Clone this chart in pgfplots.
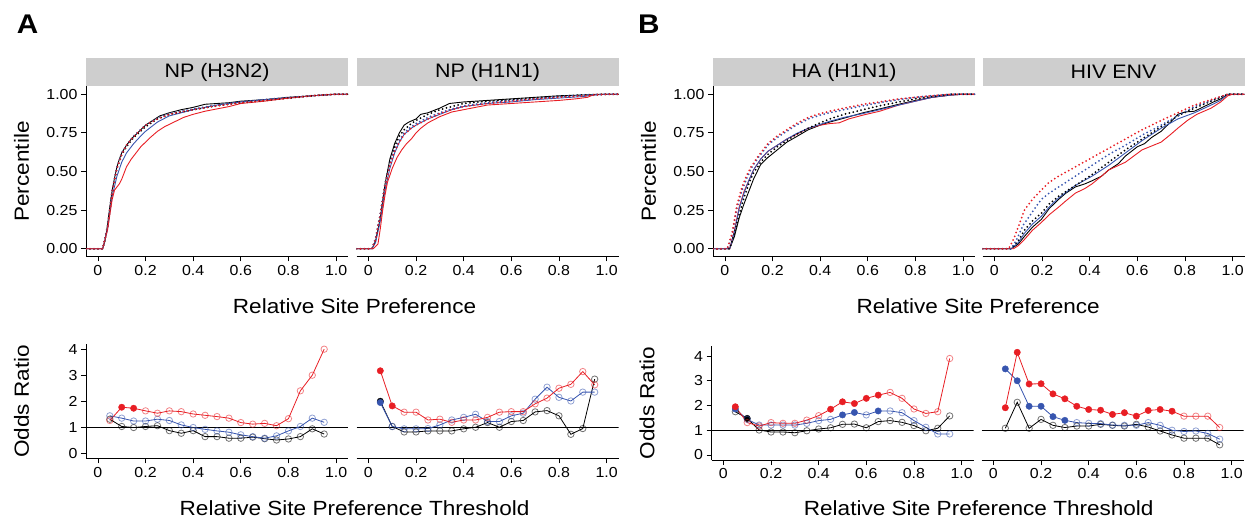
\documentclass[border=0pt]{standalone}
\usepackage{fontspec}
\setmainfont{Liberation Sans}[FakeStretch=1.1]
\usepackage{pgfplots}
\usepackage{pgfplotstable}
\pgfplotsset{compat=1.18}

\definecolor{cred}{RGB}{232,30,36}
\definecolor{cblue}{RGB}{55,85,175}
\definecolor{stripgray}{RGB}{206,206,206}

\newcommand\tickfont{\fontsize{14.5}{16}\selectfont}
\newcommand\labfont{\fontsize{20.5}{24}\selectfont}
\newcommand\stripfont{\fontsize{19.5}{22}\selectfont}

\pgfplotsset{
  base/.style={scale only axis, width=262pt, xmin=-0.05, xmax=1.05,
    axis x line=bottom, axis y line=left,
    axis line style={-, line width=0.8pt, black},
    tick align=outside, major tick length=5pt,
    every tick/.style={black, line width=0.8pt},
    xtick={0,0.2,0.4,0.6,0.8,1}, xticklabels={0,0.2,0.4,0.6,0.8,1.0},
    tick label style={font=\tickfont},
    every axis y label/.style={at={(axis description cs:0,0.5)}, xshift=-64.5pt, rotate=90, anchor=center, font=\labfont},
  },
  noy/.style={axis y line=none},
  cdf/.style={base, height=170pt, ymin=-0.05, ymax=1.05,
    ytick={0,0.25,0.5,0.75,1}, yticklabels={0.00,0.25,0.50,0.75,1.00},
    every axis title/.style={at={(0.5,1)}, anchor=south, fill=stripgray, minimum width=262pt, minimum height=28pt, inner sep=0pt, font=\stripfont}},
  orp/.style={base, ytick={0,1,2,3,4}, yticklabels={0,1,2,3,4}},
  sol/.style={mark=none, line width=0.9pt},
  dot/.style={mark=none, line width=2pt, line cap=round, dash pattern=on 0pt off 4pt},
}

% #1 table, #2 value column, #3 significance column (1 = filled), #4 colour
\newcommand\orser[4]{%
  \addplot[#4, mark=none, line width=0.8pt] table[x=x,y=#2]{#1};
  \addplot[scatter, only marks, point meta=explicit symbolic,
    scatter/classes={
      0={mark=o, mark size=3.2pt, draw=#4, draw opacity=0.55, line width=0.8pt},
      1={mark=*, mark size=3.2pt, draw=#4, fill=#4}}]
    table[x=x,y=#2,meta=#3]{#1};
}

\pgfplotstableread{
x r rf b bf k kf
0.05 1.26 0 1.44 0 1.31 0
0.10 1.77 1 1.35 0 1.03 0
0.15 1.73 1 1.24 0 0.99 0
0.20 1.63 0 1.24 0 1.03 0
0.25 1.54 0 1.31 0 1.06 0
0.30 1.63 0 1.26 0 0.87 0
0.35 1.60 0 1.09 0 0.77 0
0.40 1.51 0 0.99 0 0.87 0
0.45 1.46 0 0.92 0 0.64 0
0.50 1.41 0 0.86 0 0.64 0
0.55 1.35 0 0.81 0 0.58 0
0.60 1.18 0 0.71 0 0.58 0
0.65 1.12 0 0.64 0 0.62 0
0.70 1.15 0 0.58 0 0.56 0
0.75 1.06 0 0.67 0 0.51 0
0.80 1.33 0 0.86 0 0.55 0
0.85 2.40 0 1.03 0 0.64 0
0.90 3.00 0 1.35 0 0.94 0
0.95 4.00 0 1.19 0 0.74 0
}\tabA
\pgfplotstableread{
x r rf b bf k kf
0.05 3.17 1 1.95 1 2.00 1
0.10 1.82 1 1.03 0 1.03 0
0.15 1.58 0 0.94 0 0.82 0
0.20 1.58 0 0.94 0 0.82 0
0.25 1.28 0 0.95 0 0.86 0
0.30 1.31 0 1.09 0 0.86 0
0.35 1.19 0 1.28 0 0.86 0
0.40 1.28 0 1.38 0 0.94 0
0.45 1.28 0 1.50 0 1.00 0
0.50 1.38 0 1.22 0 1.18 0
0.55 1.58 0 1.22 0 1.00 0
0.60 1.60 0 1.44 0 1.22 0
0.65 1.60 0 1.54 0 1.26 0
0.70 1.90 0 2.08 0 1.59 0
0.75 2.12 0 2.54 0 1.64 0
0.80 2.50 0 2.15 0 1.44 0
0.85 2.65 0 2.01 0 0.73 0
0.90 3.14 0 2.35 0 0.95 0
0.95 2.63 0 2.35 0 2.85 0
}\tabB
\pgfplotstableread{
x r rf b bf k kf
0.05 1.95 1 1.86 1 1.75 0
0.10 1.31 0 1.44 0 1.48 1
0.15 1.17 0 1.21 0 1.01 0
0.20 1.31 0 1.21 0 0.93 0
0.25 1.28 0 1.21 0 0.93 0
0.30 1.28 0 1.21 0 0.90 0
0.35 1.41 0 1.28 0 0.98 0
0.40 1.59 0 1.39 0 1.05 0
0.45 1.85 1 1.44 0 1.10 0
0.50 2.15 1 1.62 1 1.24 0
0.55 2.08 1 1.72 1 1.25 0
0.60 2.29 1 1.62 0 1.10 0
0.65 2.42 1 1.78 1 1.35 0
0.70 2.53 0 1.78 0 1.39 0
0.75 2.29 0 1.71 0 1.32 0
0.80 1.86 0 1.39 0 1.19 0
0.85 1.68 0 1.12 0 0.98 0
0.90 1.75 0 0.85 0 1.08 0
0.95 3.90 0 0.85 0 1.58 0
}\tabC
\pgfplotstableread{
x r rf b bf k kf
0.05 1.91 1 3.48 1 1.08 0
0.10 4.15 1 3.00 1 2.13 0
0.15 2.87 1 1.97 1 1.08 0
0.20 2.88 1 1.97 1 1.44 0
0.25 2.47 1 1.55 1 1.20 0
0.30 2.27 1 1.40 1 1.11 0
0.35 1.97 1 1.31 0 1.17 0
0.40 1.84 1 1.28 0 1.17 0
0.45 1.81 1 1.27 0 1.24 0
0.50 1.64 1 1.21 0 1.20 0
0.55 1.71 1 1.20 0 1.17 0
0.60 1.57 1 1.20 0 1.24 0
0.65 1.80 1 1.31 0 1.13 0
0.70 1.84 1 1.20 0 0.97 0
0.75 1.77 1 1.00 0 0.81 0
0.80 1.57 0 0.95 0 0.68 0
0.85 1.57 0 0.97 0 0.68 0
0.90 1.57 0 0.87 0 0.68 0
0.95 1.11 0 0.64 0 0.41 0
}\tabD

\begin{document}
\begin{tikzpicture}
\path[use as bounding box] (0pt,0pt) rectangle (1245pt,521pt);

% ---------- Panel A top left: NP (H3N2)
\begin{axis}[cdf, at={(86pt,264.5pt)}, anchor=south west, title={NP (H3N2)}, ylabel={Percentile},
  xlabel={Relative Site Preference},
  every axis x label/.style={at={(axis description cs:1.025,0)}, anchor=base, yshift=-56.8pt, font=\labfont}]
\addplot[sol, black] coordinates {(-0.05,0) (0.02,0) (0.03,0.05) (0.04,0.15) (0.05,0.27) (0.06,0.38) (0.07,0.46) (0.08,0.53) (0.09,0.58) (0.10,0.62) (0.12,0.67) (0.14,0.71) (0.16,0.74) (0.18,0.77) (0.20,0.80) (0.23,0.83) (0.26,0.86) (0.30,0.88) (0.35,0.90) (0.40,0.915) (0.45,0.935) (0.50,0.94) (0.55,0.945) (0.60,0.955) (0.70,0.965) (0.80,0.98) (0.90,0.99) (1.00,1.0) (1.05,1.0)};
\addplot[sol, cblue] coordinates {(-0.05,0) (0.02,0) (0.04,0.12) (0.06,0.34) (0.08,0.47) (0.10,0.56) (0.12,0.62) (0.15,0.68) (0.18,0.73) (0.20,0.76) (0.25,0.82) (0.30,0.86) (0.35,0.88) (0.40,0.90) (0.50,0.93) (0.60,0.95) (0.70,0.965) (0.80,0.975) (0.90,0.99) (1.0,1.0) (1.05,1.0)};
\addplot[sol, cred] coordinates {(-0.05,0) (0.02,0) (0.04,0.12) (0.06,0.32) (0.07,0.38) (0.08,0.40) (0.09,0.42) (0.10,0.45) (0.12,0.53) (0.14,0.58) (0.16,0.62) (0.18,0.66) (0.20,0.69) (0.22,0.72) (0.25,0.76) (0.28,0.79) (0.32,0.82) (0.36,0.85) (0.40,0.87) (0.45,0.89) (0.50,0.905) (0.55,0.92) (0.60,0.94) (0.70,0.955) (0.80,0.975) (0.90,0.99) (1.0,1.0) (1.05,1.0)};
\addplot[dot, black] coordinates {(-0.05,0) (0.02,0) (0.04,0.14) (0.06,0.37) (0.08,0.52) (0.10,0.61) (0.12,0.66) (0.15,0.72) (0.20,0.79) (0.25,0.84) (0.30,0.87) (0.40,0.90) (0.50,0.925) (0.60,0.945) (0.70,0.96) (0.80,0.975) (0.90,0.99) (1.00,1.0) (1.05,1.0)};
\addplot[dot, cblue] coordinates {(-0.05,0) (0.02,0) (0.04,0.14) (0.06,0.38) (0.08,0.53) (0.10,0.62) (0.12,0.67) (0.15,0.73) (0.20,0.80) (0.25,0.845) (0.30,0.875) (0.40,0.905) (0.50,0.93) (0.60,0.95) (0.70,0.965) (0.80,0.98) (0.90,0.99) (1.00,1.0) (1.05,1.0)};
\addplot[dot, cred] coordinates {(-0.05,0) (0.02,0) (0.04,0.13) (0.06,0.37) (0.08,0.52) (0.10,0.61) (0.12,0.67) (0.15,0.725) (0.20,0.80) (0.25,0.84) (0.30,0.87) (0.40,0.90) (0.50,0.925) (0.60,0.945) (0.70,0.96) (0.80,0.975) (0.90,0.99) (1.00,1.0) (1.05,1.0)};
\end{axis}

% ---------- Panel A top right: NP (H1N1)
\begin{axis}[cdf, noy, at={(356.5pt,264.5pt)}, anchor=south west, title={NP (H1N1)}]
\addplot[sol, black] coordinates {(-0.05,0) (0.015,0) (0.03,0.05) (0.05,0.2) (0.07,0.42) (0.09,0.58) (0.11,0.68) (0.13,0.75) (0.15,0.80) (0.17,0.82) (0.20,0.84) (0.22,0.87) (0.25,0.88) (0.30,0.91) (0.34,0.94) (0.40,0.95) (0.50,0.96) (0.60,0.97) (0.70,0.98) (0.80,0.99) (0.90,0.995) (1.0,1.0) (1.05,1.0)};
\addplot[sol, cblue] coordinates {(-0.05,0) (0.015,0) (0.03,0.04) (0.05,0.18) (0.07,0.38) (0.09,0.52) (0.11,0.62) (0.13,0.69) (0.15,0.74) (0.18,0.78) (0.20,0.80) (0.25,0.84) (0.30,0.87) (0.35,0.90) (0.40,0.92) (0.50,0.94) (0.60,0.95) (0.70,0.965) (0.80,0.975) (0.90,0.985) (0.95,0.995) (1.0,1.0) (1.05,1.0)};
\addplot[sol, cred] coordinates {(-0.05,0) (0.02,0) (0.04,0.03) (0.05,0.13) (0.06,0.25) (0.07,0.35) (0.08,0.43) (0.10,0.52) (0.12,0.59) (0.14,0.64) (0.16,0.68) (0.18,0.71) (0.20,0.75) (0.22,0.78) (0.25,0.815) (0.30,0.855) (0.35,0.885) (0.40,0.90) (0.45,0.915) (0.50,0.93) (0.60,0.94) (0.70,0.95) (0.80,0.96) (0.87,0.97) (0.92,0.98) (0.95,1.0) (1.05,1.0)};
\addplot[dot, black] coordinates {(-0.05,0) (0.015,0) (0.03,0.06) (0.05,0.22) (0.07,0.42) (0.09,0.56) (0.11,0.66) (0.13,0.73) (0.15,0.77) (0.18,0.81) (0.20,0.83) (0.25,0.87) (0.30,0.90) (0.35,0.92) (0.40,0.94) (0.50,0.955) (0.60,0.965) (0.70,0.975) (0.80,0.985) (0.90,0.995) (1.0,1.0) (1.05,1.0)};
\addplot[dot, cblue] coordinates {(-0.05,0) (0.015,0) (0.03,0.07) (0.05,0.23) (0.07,0.42) (0.09,0.55) (0.11,0.64) (0.13,0.70) (0.15,0.75) (0.18,0.79) (0.20,0.81) (0.25,0.85) (0.30,0.88) (0.35,0.905) (0.40,0.925) (0.50,0.945) (0.60,0.96) (0.70,0.97) (0.80,0.985) (0.90,0.995) (1.0,1.0) (1.05,1.0)};
\addplot[dot, cred] coordinates {(-0.05,0) (0.015,0) (0.03,0.06) (0.05,0.22) (0.07,0.41) (0.09,0.54) (0.11,0.63) (0.13,0.69) (0.15,0.74) (0.18,0.78) (0.20,0.80) (0.25,0.84) (0.30,0.875) (0.35,0.90) (0.40,0.92) (0.50,0.94) (0.60,0.955) (0.70,0.97) (0.80,0.98) (0.90,0.99) (1.0,1.0) (1.05,1.0)};
\end{axis}

% ---------- Panel B top left: HA (H1N1)
\begin{axis}[cdf, at={(713pt,264.5pt)}, anchor=south west, title={HA (H1N1)}, ylabel={Percentile},
  xlabel={Relative Site Preference},
  every axis x label/.style={at={(axis description cs:1.012,0)}, anchor=base, yshift=-56.8pt, font=\labfont}]
\addplot[sol, black] coordinates {(-0.05,0) (0.02,0) (0.04,0.08) (0.06,0.2) (0.08,0.29) (0.10,0.37) (0.12,0.45) (0.15,0.545) (0.18,0.59) (0.22,0.64) (0.26,0.69) (0.30,0.725) (0.35,0.77) (0.40,0.80) (0.44,0.82) (0.50,0.845) (0.58,0.88) (0.65,0.905) (0.73,0.935) (0.80,0.96) (0.87,0.98) (0.95,0.995) (1.0,1.0) (1.05,1.0)};
\addplot[sol, cred] coordinates {(-0.05,0) (0.02,0) (0.04,0.12) (0.06,0.27) (0.08,0.37) (0.10,0.44) (0.12,0.51) (0.15,0.58) (0.18,0.63) (0.22,0.67) (0.26,0.71) (0.30,0.74) (0.35,0.78) (0.40,0.80) (0.44,0.81) (0.48,0.815) (0.52,0.84) (0.58,0.865) (0.65,0.89) (0.73,0.93) (0.80,0.955) (0.87,0.98) (0.95,0.995) (1.0,1.0) (1.05,1.0)};
\addplot[sol, cblue] coordinates {(-0.05,0) (0.02,0) (0.04,0.11) (0.06,0.26) (0.08,0.36) (0.10,0.44) (0.12,0.51) (0.15,0.58) (0.18,0.63) (0.22,0.67) (0.26,0.71) (0.30,0.745) (0.35,0.78) (0.40,0.805) (0.44,0.825) (0.50,0.85) (0.58,0.875) (0.65,0.90) (0.73,0.93) (0.80,0.955) (0.87,0.98) (0.95,0.995) (1.0,1.0) (1.05,1.0)};
\addplot[dot, black] coordinates {(-0.05,0) (0.02,0) (0.04,0.1) (0.06,0.22) (0.08,0.33) (0.10,0.42) (0.12,0.49) (0.15,0.56) (0.18,0.61) (0.22,0.66) (0.26,0.70) (0.30,0.74) (0.35,0.78) (0.40,0.815) (0.44,0.84) (0.50,0.87) (0.58,0.90) (0.65,0.925) (0.73,0.95) (0.80,0.97) (0.87,0.985) (0.95,1.0) (1.05,1.0)};
\addplot[dot, cblue] coordinates {(-0.05,0) (0.01,0) (0.03,0.09) (0.05,0.26) (0.07,0.37) (0.09,0.45) (0.11,0.52) (0.14,0.59) (0.18,0.67) (0.22,0.72) (0.26,0.76) (0.30,0.80) (0.35,0.84) (0.40,0.865) (0.44,0.88) (0.50,0.90) (0.58,0.925) (0.65,0.945) (0.73,0.965) (0.80,0.98) (0.87,0.99) (0.95,1.0) (1.05,1.0)};
\addplot[dot, cred] coordinates {(-0.05,0) (0.01,0) (0.03,0.1) (0.05,0.28) (0.07,0.39) (0.09,0.47) (0.11,0.53) (0.14,0.60) (0.18,0.68) (0.22,0.73) (0.26,0.77) (0.30,0.81) (0.35,0.85) (0.40,0.875) (0.44,0.89) (0.50,0.91) (0.58,0.935) (0.65,0.95) (0.73,0.97) (0.80,0.98) (0.87,0.99) (0.95,1.0) (1.05,1.0)};
\end{axis}

% ---------- Panel B top right: HIV ENV
\begin{axis}[cdf, noy, at={(982.5pt,264.5pt)}, anchor=south west, title={HIV ENV}]
\addplot[sol, black] coordinates {(-0.05,0) (0.07,0) (0.10,0.03) (0.126,0.08) (0.16,0.14) (0.197,0.19) (0.23,0.26) (0.27,0.32) (0.30,0.36) (0.34,0.40) (0.38,0.42) (0.41,0.44) (0.45,0.47) (0.48,0.51) (0.52,0.55) (0.55,0.60) (0.60,0.66) (0.63,0.68) (0.66,0.72) (0.70,0.76) (0.74,0.82) (0.77,0.87) (0.80,0.885) (0.84,0.89) (0.88,0.92) (0.92,0.95) (0.95,0.97) (0.98,1.0) (1.05,1.0)};
\addplot[sol, cblue] coordinates {(-0.05,0) (0.07,0) (0.10,0.04) (0.126,0.10) (0.16,0.16) (0.197,0.21) (0.23,0.27) (0.27,0.33) (0.34,0.41) (0.41,0.47) (0.48,0.54) (0.55,0.62) (0.62,0.70) (0.70,0.78) (0.77,0.84) (0.84,0.88) (0.91,0.93) (0.95,0.96) (0.98,1.0) (1.05,1.0)};
\addplot[sol, cred] coordinates {(-0.05,0) (0.08,0) (0.10,0.02) (0.126,0.06) (0.16,0.12) (0.197,0.17) (0.23,0.22) (0.27,0.27) (0.30,0.31) (0.34,0.36) (0.38,0.39) (0.41,0.42) (0.45,0.47) (0.48,0.51) (0.55,0.56) (0.62,0.64) (0.70,0.69) (0.74,0.74) (0.77,0.78) (0.81,0.83) (0.85,0.87) (0.91,0.91) (0.95,0.95) (0.98,0.99) (1.0,1.0) (1.05,1.0)};
\addplot[dot, black] coordinates {(-0.05,0) (0.07,0) (0.10,0.05) (0.126,0.12) (0.16,0.18) (0.197,0.23) (0.23,0.29) (0.27,0.34) (0.34,0.41) (0.41,0.48) (0.48,0.56) (0.55,0.64) (0.62,0.71) (0.70,0.79) (0.77,0.86) (0.84,0.91) (0.91,0.955) (0.98,1.0) (1.05,1.0)};
\addplot[dot, cblue] coordinates {(-0.05,0) (0.07,0) (0.09,0.05) (0.12,0.15) (0.16,0.24) (0.197,0.32) (0.23,0.36) (0.27,0.40) (0.34,0.47) (0.41,0.54) (0.48,0.61) (0.55,0.67) (0.62,0.735) (0.70,0.80) (0.77,0.86) (0.84,0.92) (0.91,0.96) (0.98,1.0) (1.05,1.0)};
\addplot[dot, cred] coordinates {(-0.05,0) (0.06,0) (0.08,0.06) (0.10,0.14) (0.126,0.25) (0.16,0.32) (0.197,0.38) (0.23,0.43) (0.27,0.47) (0.34,0.53) (0.41,0.59) (0.48,0.65) (0.55,0.71) (0.62,0.77) (0.70,0.83) (0.77,0.88) (0.84,0.93) (0.91,0.965) (0.98,1.0) (1.05,1.0)};
\end{axis}

% ---------- Panel A bottom left
\begin{axis}[orp, at={(86pt,62.5pt)}, anchor=south west, height=114pt, ymin=-0.2, ymax=4.18, ylabel={Odds Ratio},
  xlabel={Relative Site Preference Threshold},
  every axis x label/.style={at={(axis description cs:1.025,0)}, anchor=base, yshift=-57.5pt, font=\labfont}]
\addplot[black, mark=none, line width=0.7pt] coordinates {(-0.05,1) (1.05,1)};
\orser{\tabA}{k}{kf}{black}
\orser{\tabA}{b}{bf}{cblue}
\orser{\tabA}{r}{rf}{cred}
\end{axis}

% ---------- Panel A bottom right
\begin{axis}[orp, noy, at={(356.5pt,62.5pt)}, anchor=south west, height=114pt, ymin=-0.2, ymax=4.18]
\addplot[black, mark=none, line width=0.7pt] coordinates {(-0.05,1) (1.05,1)};
\orser{\tabB}{k}{kf}{black}
\orser{\tabB}{b}{bf}{cblue}
\orser{\tabB}{r}{rf}{cred}
\end{axis}

% ---------- Panel B bottom left
\begin{axis}[orp, at={(711.5pt,60.8pt)}, anchor=south west, height=114.3pt, ymin=-0.21, ymax=4.41, ylabel={Odds Ratio},
  xlabel={Relative Site Preference Threshold},
  every axis x label/.style={at={(axis description cs:1.02,0)}, anchor=base, yshift=-55.8pt, font=\labfont}]
\addplot[black, mark=none, line width=0.7pt] coordinates {(-0.05,1) (1.05,1)};
\orser{\tabC}{k}{kf}{black}
\orser{\tabC}{b}{bf}{cblue}
\orser{\tabC}{r}{rf}{cred}
\end{axis}

% ---------- Panel B bottom right
\begin{axis}[orp, noy, at={(981.5pt,60.8pt)}, anchor=south west, height=114.3pt, ymin=-0.21, ymax=4.41]
\addplot[black, mark=none, line width=0.7pt] coordinates {(-0.05,1) (1.05,1)};
\orser{\tabD}{k}{kf}{black}
\orser{\tabD}{b}{bf}{cblue}
\orser{\tabD}{r}{rf}{cred}
\end{axis}

\node[anchor=base west, inner sep=0pt, font=\fontsize{27}{30}\selectfont\bfseries] at (16.7pt,487.7pt) {A};
\node[anchor=base west, inner sep=0pt, font=\fontsize{27}{30}\selectfont\bfseries] at (638pt,487.7pt) {B};
\end{tikzpicture}
\end{document}
